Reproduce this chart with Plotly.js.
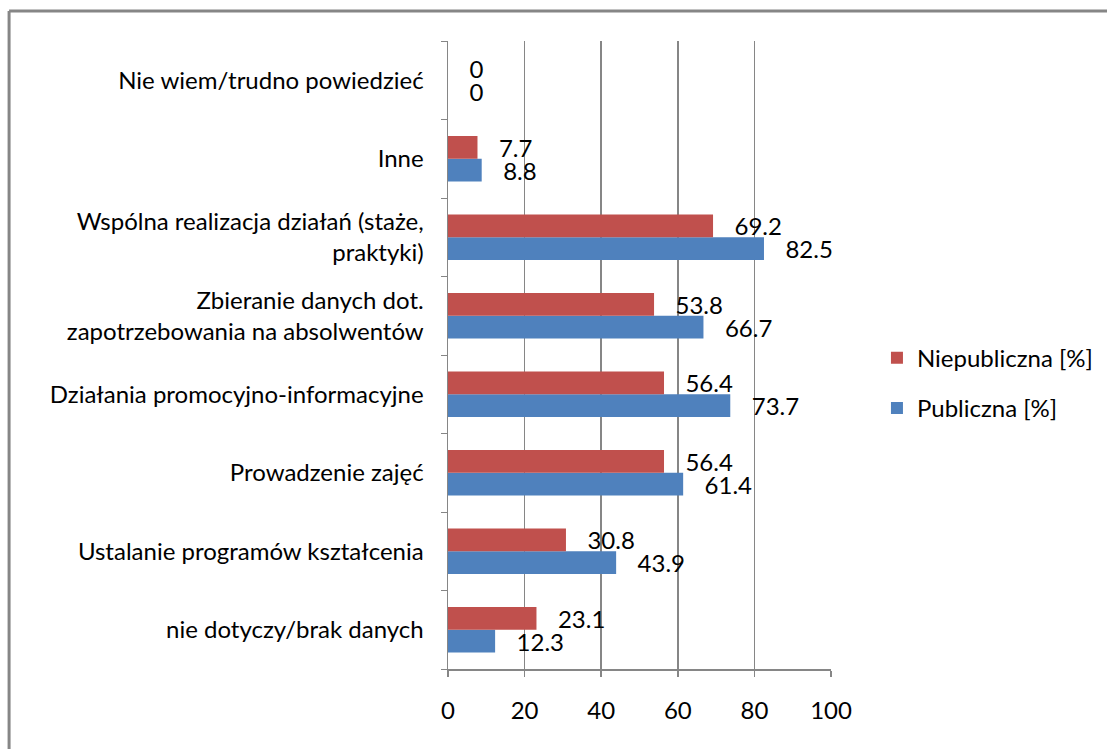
<!DOCTYPE html>
<html><head><meta charset="utf-8">
<script src="https://cdn.plot.ly/plotly-3.0.1.min.js"></script>
<style>html,body{margin:0;padding:0;background:#fff}#chart{width:1107px;height:749px}</style>
</head><body><div id="chart"></div>
<script>
const categories = [
  "nie dotyczy/brak danych",
  "Ustalanie programów kształcenia",
  "Prowadzenie zajęć",
  "Działania promocyjno-informacyjne",
  "Zbieranie danych dot.<br>zapotrzebowania na absolwentów",
  "Wspólna realizacja działań (staże,<br>praktyki)",
  "Inne",
  "Nie wiem/trudno powiedzieć"
];
const publiczna = [12.3, 43.9, 61.4, 73.7, 66.7, 82.5, 8.8, 0];
const niepubliczna = [23.1, 30.8, 56.4, 56.4, 53.8, 69.2, 7.7, 0];
const xTicks = [0, 20, 40, 60, 80, 100];

const font = {family: "Lato, 'Open Sans', sans-serif", size: 24, color: "#000"};
const traces = [
  {type: "bar", orientation: "h", name: "Publiczna [%]", y: categories, x: publiczna,
   marker: {color: "#4F81BD"}, text: publiczna.map(v => String(v)), textposition: "outside",
   texttemplate: "   %{text}", cliponaxis: false, constraintext: "none", textfont: font,
   legendgroup: "p", legendrank: 2, hoverinfo: "x"},
  {type: "bar", orientation: "h", name: "Niepubliczna [%]", y: categories, x: niepubliczna,
   marker: {color: "#C0504D"}, text: niepubliczna.map(v => String(v)), textposition: "outside",
   texttemplate: "   %{text}", cliponaxis: false, constraintext: "none", textfont: font,
   legendgroup: "n", legendrank: 1, hoverinfo: "x"}
];
const layout = {
  width: 1107, height: 749,
  margin: {l: 448, r: 276, t: 41, b: 80, pad: 0, autoexpand: false},
  paper_bgcolor: "#fff", plot_bgcolor: "#fff",
  font: font,
  barmode: "group", bargap: 0.42, bargroupgap: 0,
  showlegend: true,
  legend: {x: 1.12, y: 0.455, xanchor: "left", yanchor: "middle", traceorder: "grouped",
           tracegroupgap: 16, font: font, itemwidth: 30},
  xaxis: {range: [0, 100], tickvals: xTicks, ticktext: xTicks.map(String),
          showgrid: true, gridcolor: "#868686", gridwidth: 1.5,
          showline: true, linecolor: "#868686", linewidth: 2,
          ticks: "outside", ticklen: 6, tickcolor: "#868686", tickwidth: 1.5,
          ticklabelstandoff: 13, zeroline: false, fixedrange: true},
  yaxis: {type: "category", categoryorder: "array", categoryarray: categories,
          showline: true, linecolor: "#868686", linewidth: 1.5,
          ticks: "outside", ticklen: 6, tickcolor: "#868686", tickson: "boundaries",
          ticklabelstandoff: 18, showgrid: false, fixedrange: true},
  shapes: [
    {type: "line", xref: "paper", yref: "paper", x0: -1.146, x1: 2, y0: 1.0478, y1: 1.0478,
     line: {color: "#868686", width: 3}},
    {type: "line", xref: "paper", yref: "paper", x0: -1.146, x1: -1.146, y0: 1.0478, y1: -1,
     line: {color: "#868686", width: 3}}
  ]
};
Plotly.newPlot("chart", traces, layout, {displayModeBar: false, staticPlot: true});
</script></body></html>
